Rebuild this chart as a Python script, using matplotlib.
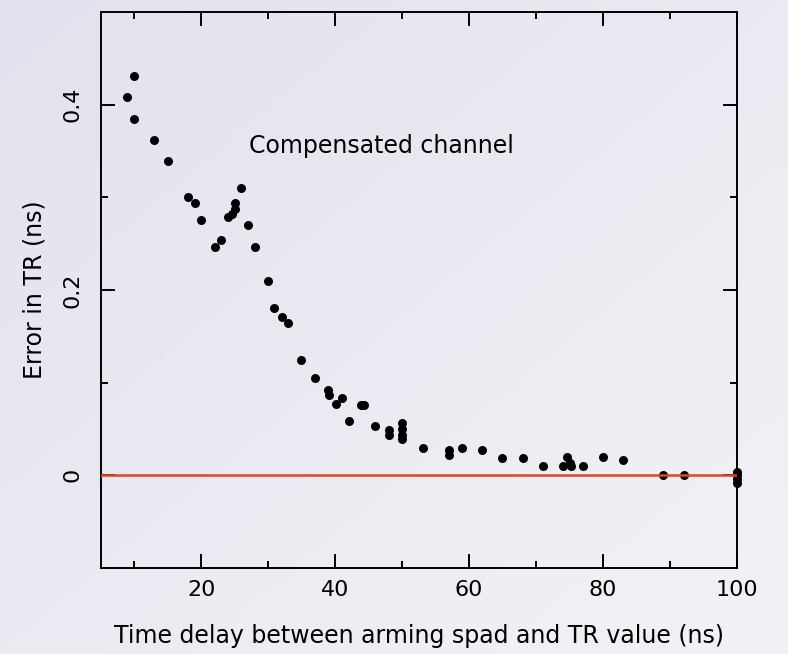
import numpy as np
import matplotlib
matplotlib.use("Agg")
import matplotlib.pyplot as plt
from matplotlib.colors import LinearSegmentedColormap

# data
delay_ns = [8.9, 10.0, 9.9, 13.0, 15.0, 18.0, 19.0, 20.0, 22.0, 23.0,
            24.0, 24.6, 25.0, 25.1, 25.9, 27.0, 28.0, 30.0, 30.9, 32.1,
            33.0, 34.9, 37.0, 38.9, 39.1, 40.1, 41.0, 42.0, 43.8, 44.3,
            45.9, 48.0, 48.0, 50.0, 50.0, 50.0, 50.0, 53.1, 57.0, 57.0,
            59.0, 62.0, 65.0, 68.0, 71.0, 74.0, 74.7, 75.1, 75.3, 77.0,
            80.0, 83.0, 89.0, 92.1, 100.0, 100.0, 100.0, 100.0]
error_ns = [0.408, 0.431, 0.385, 0.362, 0.339, 0.300, 0.294, 0.276, 0.247, 0.254,
            0.279, 0.282, 0.288, 0.294, 0.310, 0.270, 0.247, 0.210, 0.181, 0.171,
            0.164, 0.125, 0.105, 0.092, 0.087, 0.077, 0.083, 0.059, 0.076, 0.076,
            0.053, 0.049, 0.044, 0.056, 0.050, 0.044, 0.039, 0.030, 0.027, 0.022,
            0.030, 0.027, 0.019, 0.019, 0.010, 0.010, 0.020, 0.013, 0.010, 0.010,
            0.020, 0.017, 0.0, 0.0, 0.004, 0.0, -0.004, -0.008]

x_major = [20, 40, 60, 80, 100]
x_minor = [10, 30, 50, 70, 90]
y_major = [0, 0.2, 0.4]
y_labels = ["0", "0.2", "0.4"]
y_minor = [0.1, 0.3]

fig = plt.figure(figsize=(7.88, 6.54), dpi=100)

# soft lavender gradient background
bg = fig.add_axes([0, 0, 1, 1], zorder=-10)
gx, gy = np.meshgrid(np.linspace(0, 1, 200), np.linspace(0, 1, 200))
grad = (gx + (1 - gy)) / 2
cmap = LinearSegmentedColormap.from_list("bg", ["#e2e2ee", "#f2f2f6"])
bg.imshow(grad, cmap=cmap, aspect="auto", extent=[0, 1, 0, 1], origin="lower")
bg.axis("off")

ax = fig.add_axes([0.128, 0.1315, 0.807, 0.850])
ax.patch.set_alpha(0)

ax.scatter(delay_ns, error_ns, s=42, color="black", marker="o", lw=0, zorder=3, clip_on=False)
ax.plot([5, 100], [0, 0], color="#d8482c", lw=1.8, zorder=4)

ax.set_xlim(5, 100)
ax.set_ylim(-0.1, 0.5)
ax.set_xticks(x_major)
ax.set_xticks(x_minor, minor=True)
ax.set_yticks(y_major)
ax.set_yticklabels(y_labels, rotation=90, va="center")
ax.set_yticks(y_minor, minor=True)

for s in ax.spines.values():
    s.set_linewidth(1.4)
ax.tick_params(which="both", direction="in", top=True, right=True, width=1.4, labelsize=16)
ax.tick_params(which="major", length=10, pad=9)
ax.tick_params(which="minor", length=5)
ax.tick_params(axis="y", pad=13)

ax.set_xlabel("Time delay between arming spad and TR value (ns)", fontsize=17, labelpad=17)
ax.set_ylabel("Error in TR (ns)", fontsize=17, labelpad=12)

ax.text(27.1, 0.356, "Compensated channel", fontsize=17, va="center", ha="left")

fig.savefig("out.png", dpi=100)
